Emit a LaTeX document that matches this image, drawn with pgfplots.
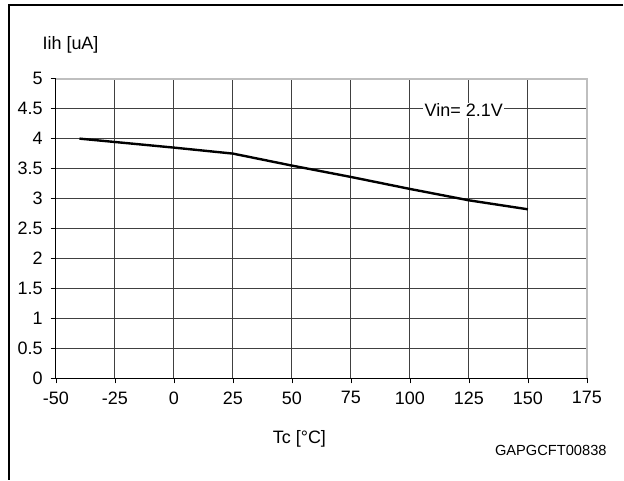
\documentclass[border=0pt]{standalone}
\usepackage{pgfplots}
\pgfplotsset{compat=1.18}
\usepackage{fontspec}
\setmainfont{Liberation Sans}

\begin{document}
\begin{tikzpicture}
\begin{axis}[
    scale only axis,
    width=399pt, height=225pt,
    xmin=-50, xmax=175, ymin=0, ymax=5,
    xtick={-50,-25,...,175},
    ytick={0,0.5,...,5},
    axis lines*=left,
    axis line style={-, black, line width=0.8pt},
    tick align=outside,
    major tick length=4pt,
    tick style={black, line width=0.6pt},
    grid=major,
    major grid style={black!75, line width=0.7pt},
    ticklabel style={font=\fontsize{13.5}{15}\selectfont},
    xticklabel style={yshift=-2.5pt},
    yticklabel style={xshift=-2.5pt},
    /pgf/number format/assume math mode=true,
    xlabel={Tc [°C]},
    ylabel={Iih [uA]},
    xlabel style={at={(axis description cs:0.4586,-0.203)}, anchor=center, font=\fontsize{13.5}{15}\selectfont},
    ylabel style={at={(axis description cs:-0.034,1.113)}, anchor=west, rotate=-90, font=\fontsize{13.5}{15}\selectfont},
    clip=false,
]
\addplot[black, line width=1.8pt] coordinates {
    (-40,4.00) (0,3.85) (25,3.75) (50,3.55) (75,3.36) (100,3.16) (125,2.97) (150,2.82)
};
% light grey top and right border
\draw[black!25, line width=1.5pt] (rel axis cs:0,1) -- (rel axis cs:1,1) -- (rel axis cs:1,0);
\node[fill=white, inner sep=1pt, font=\fontsize{13.5}{15}\selectfont] at (axis cs:122.8,4.47) {Vin= 2.1V};
\node[font=\fontsize{11}{13}\selectfont] at (axis description cs:0.932,-0.243) {GAPGCFT00838};
% page frame
\draw[black, line width=1.5pt] (axis description cs:1.068,1.247) -- (axis description cs:-0.0883,1.247) -- (axis description cs:-0.0883,-0.34);
\path[use as bounding box] (axis description cs:-0.1053,-0.34) rectangle (axis description cs:1.068,1.263);
\end{axis}
\end{tikzpicture}
\end{document}
